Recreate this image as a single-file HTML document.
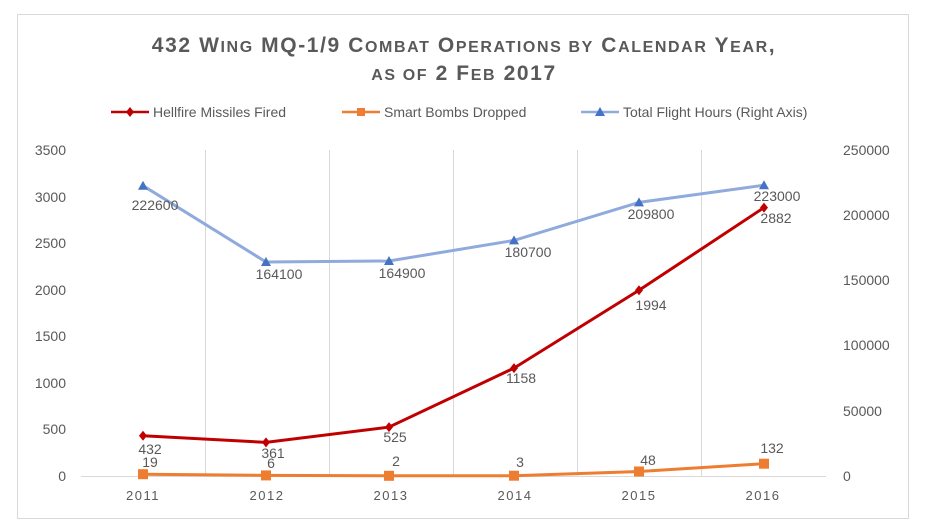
<!DOCTYPE html>
<html><head><meta charset="utf-8"><style>
body{margin:0;background:#fff;}
svg{display:block;font-family:"Liberation Sans Narrow","Liberation Sans",sans-serif;}
</style></head><body>
<svg width="927" height="531" viewBox="0 0 927 531">
<rect x="17.5" y="14.5" width="891" height="504" fill="#fff" stroke="#d9d9d9"/>
<g font-weight="bold" fill="#595959" text-anchor="middle" font-size="21" letter-spacing="1.6">
<text x="464" y="52">432 W<tspan font-size="16">ING</tspan> MQ-1/9 C<tspan font-size="16">OMBAT</tspan> O<tspan font-size="16">PERATIONS BY</tspan> C<tspan font-size="16">ALENDAR</tspan> Y<tspan font-size="16">EAR</tspan>,</text>
<text x="464" y="80"><tspan font-size="16">AS OF</tspan> 2 F<tspan font-size="16">EB</tspan> 2017</text>
</g>
<g font-size="14" fill="#595959">
<line x1="111" y1="112" x2="149" y2="112" stroke="#c00000" stroke-width="2.5"/>
<path d="M130 107 L134 112 L130 117 L126 112Z" fill="#c00000"/>
<text x="153" y="117">Hellfire Missiles Fired</text>
<line x1="342" y1="112" x2="380" y2="112" stroke="#ed7d31" stroke-width="2.5"/>
<rect x="357" y="108" width="8" height="8" fill="#ed7d31"/>
<text x="384" y="117">Smart Bombs Dropped</text>
<line x1="581" y1="112" x2="619" y2="112" stroke="#8faadc" stroke-width="2.5"/>
<path d="M600 107 L605 116 L595 116Z" fill="#4472c4"/>
<text x="623" y="117">Total Flight Hours (Right Axis)</text>
</g>
<g stroke="#d9d9d9" stroke-width="1">
<line x1="205.5" y1="150" x2="205.5" y2="476"/>
<line x1="329.5" y1="150" x2="329.5" y2="476"/>
<line x1="453.5" y1="150" x2="453.5" y2="476"/>
<line x1="577.5" y1="150" x2="577.5" y2="476"/>
<line x1="701.5" y1="150" x2="701.5" y2="476"/>
<line x1="81" y1="476.5" x2="826" y2="476.5"/>
</g>
<g font-size="14" fill="#595959" text-anchor="end">
<text x="66" y="155">3500</text><text x="66" y="202">3000</text><text x="66" y="248">2500</text>
<text x="66" y="295">2000</text><text x="66" y="341">1500</text><text x="66" y="388">1000</text>
<text x="66" y="434">500</text><text x="66" y="481">0</text>
</g>
<g font-size="14" fill="#595959" text-anchor="start">
<text x="843" y="155">250000</text><text x="843" y="220">200000</text><text x="843" y="285">150000</text>
<text x="843" y="350">100000</text><text x="843" y="416">50000</text><text x="843" y="481">0</text>
</g>
<g font-size="13" fill="#595959" text-anchor="middle" letter-spacing="1.5">
<text x="143" y="500">2011</text><text x="267" y="500">2012</text><text x="391" y="500">2013</text>
<text x="515" y="500">2014</text><text x="639" y="500">2015</text><text x="763" y="500">2016</text>
</g>
<polyline points="143,185.7 266,262 389,261 514,240.4 639,202.4 764,185.2" fill="none" stroke="#8faadc" stroke-width="3"/>
<g fill="#4472c4">
<path d="M143 180.7 L148 189.7 L138 189.7Z"/><path d="M266 257 L271 266 L261 266Z"/>
<path d="M389 256 L394 265 L384 265Z"/><path d="M514 235.4 L519 244.4 L509 244.4Z"/>
<path d="M639 197.4 L644 206.4 L634 206.4Z"/><path d="M764 180.2 L769 189.2 L759 189.2Z"/>
</g>
<polyline points="143,435.8 266,442.4 389,427.1 514,368.1 639,290.3 764,207.6" fill="none" stroke="#c00000" stroke-width="3"/>
<g fill="#c00000">
<path d="M143 430.8 L147 435.8 L143 440.8 L139 435.8Z"/><path d="M266 437.4 L270 442.4 L266 447.4 L262 442.4Z"/>
<path d="M389 422.1 L393 427.1 L389 432.1 L385 427.1Z"/><path d="M514 363.1 L518 368.1 L514 373.1 L510 368.1Z"/>
<path d="M639 285.3 L643 290.3 L639 295.3 L635 290.3Z"/><path d="M764 202.6 L768 207.6 L764 212.6 L760 207.6Z"/>
</g>
<polyline points="143,474.2 266,475.4 389,475.8 514,475.7 639,471.5 764,463.7" fill="none" stroke="#ed7d31" stroke-width="3"/>
<g fill="#ed7d31">
<rect x="138" y="469.2" width="10" height="10"/><rect x="261" y="470.4" width="10" height="10"/>
<rect x="384" y="470.8" width="10" height="10"/><rect x="509" y="470.7" width="10" height="10"/>
<rect x="634" y="466.5" width="10" height="10"/><rect x="759" y="458.7" width="10" height="10"/>
</g>
<g font-size="14" fill="#595959" text-anchor="middle">
<text x="155" y="210">222600</text><text x="279" y="279">164100</text><text x="402" y="278">164900</text>
<text x="528" y="257">180700</text><text x="651" y="219">209800</text><text x="777" y="201">223000</text>
<text x="150" y="454">432</text><text x="273" y="458">361</text><text x="395" y="442">525</text>
<text x="521" y="383">1158</text><text x="651" y="310">1994</text><text x="776" y="223">2882</text>
<text x="150" y="467">19</text><text x="271" y="468">6</text><text x="396" y="466">2</text>
<text x="520" y="467">3</text><text x="648" y="465">48</text><text x="772" y="453">132</text>
</g>
</svg>
</body></html>
